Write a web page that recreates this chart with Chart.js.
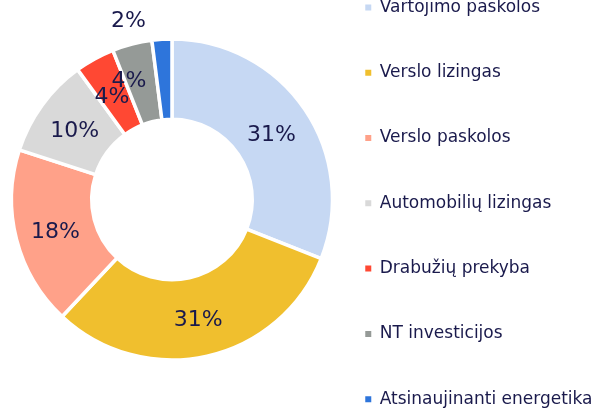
<!DOCTYPE html>
<html>
<head>
<meta charset="utf-8">
<script src="https://cdn.jsdelivr.net/npm/chart.js@4"></script>
<style>
  html, body { margin: 0; padding: 0; background: #fff; overflow: hidden; width: 606px; height: 410px; }
  #wrap { position: absolute; left: 0; top: -57px; width: 606px; height: 513px; }
</style>
</head>
<body>
<div id="wrap"><canvas id="loanChart"></canvas></div>
<script>
var categories = [
    "Vartojimo paskolos",
    "Verslo lizingas",
    "Verslo paskolos",
    "Automobilių lizingas",
    "Drabužių prekyba",
    "NT investicijos",
    "Atsinaujinanti energetika"
];
var shares = [31, 31, 18, 10, 4, 4, 2];
var sliceColors = ["#C6D8F3", "#F0BF2E", "#FFA189", "#D9D9D9", "#FF4833", "#959A97", "#2E75DB"];
// small slices: labels moved so they don't overlap
var nudgeX = [0, 0, 0, 0, -2, -13, -36];
var nudgeY = [0, 0, 0, 0, 0, -5, -61];
var textColor = "#1a1a4c";
var fontFamily = '"DejaVu Sans", sans-serif';

var pctLabels = {
    id: 'pctLabels',
    afterDatasetsDraw: function (chart) {
        var ctx = chart.ctx;
        var meta = chart.getDatasetMeta(0);
        ctx.save();
        ctx.font = '22px ' + fontFamily;
        ctx.fillStyle = textColor;
        ctx.textAlign = 'center';
        ctx.textBaseline = 'middle';
        meta.data.forEach(function (arc, i) {
            var p = arc.tooltipPosition();
            ctx.fillText(shares[i] + '%', p.x + nudgeX[i], p.y + 3 + nudgeY[i]);
        });
        ctx.restore();
    }
};

var ctx = document.getElementById("loanChart").getContext('2d');
var loanChart = new Chart(ctx, {
    type: 'doughnut',
    data: {
        labels: categories,
        datasets: [{
            data: shares,
            backgroundColor: sliceColors,
            borderColor: "#ffffff",
            borderWidth: 3.5,
            hoverOffset: 0
        }]
    },
    options: {
        responsive: true,
        maintainAspectRatio: false,
        animation: false,
        radius: 160.5,
        cutout: '50%',
        layout: {
            padding: { left: 27, right: 3.5, top: 0, bottom: 0 }
        },
        plugins: {
            tooltip: { enabled: false },
            legend: {
                position: 'right',
                align: 'end',
                labels: {
                    boxWidth: 6,
                    boxHeight: 6,
                    padding: 48.3,
                    color: textColor,
                    font: { size: 17, family: fontFamily },
                    generateLabels: function (chart) {
                        var items = Chart.overrides.doughnut.plugins.legend.labels.generateLabels(chart);
                        return items.map(function (it) {
                            it.lineWidth = 0;
                            return it;
                        });
                    }
                }
            }
        }
    },
    plugins: [pctLabels]
});
</script>
</body>
</html>
